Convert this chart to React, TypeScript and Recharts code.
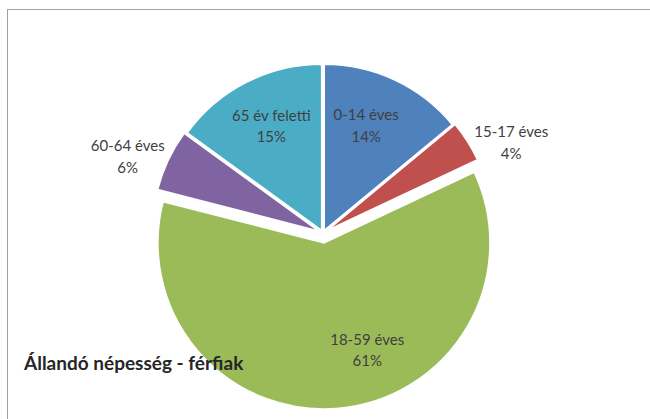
import { Cell, Pie, PieChart } from 'recharts';

const categories = ['0-14 éves', '15-17 éves', '18-59 éves', '60-64 éves', '65 év feletti'];
const shares = [14, 4, 61, 6, 15];

const COLORS = ['#4F81BD', '#C0504D', '#9BBB59', '#8064A2', '#4BACC6'];
// how far each slice is pulled out of the pie (px)
const EXPLODE = [3, 5, 10, 5, 3];
// labels drawn outside the pie vs inside it
const OUTSIDE = [false, true, false, true, false];
// Excel's "best fit" doesn't sit exactly on the mid angle, so nudge a bit
const LABEL_NUDGE: [number, number][] = [[-9, 3], [6, 25], [32, -12], [0, 15], [4, 2]];

const CX = 323;
const CY = 233;
const RADIUS = 166;
const RAD = Math.PI / 180;
const FONT = 'Lato, "Open Sans", sans-serif';

const data = categories.map((name, i) => ({ name, value: shares[i] }));
const total = shares.reduce((a, b) => a + b, 0);

// angle of each slice's middle, clockwise from 12 o'clock
const midFromTop = shares.map((v, i) => {
  const before = shares.slice(0, i).reduce((a, b) => a + b, 0);
  return ((before + v / 2) / total) * 360;
});

function makeLabel(slice: number) {
  return (props: any) => {
    if (props.index !== slice) return null;
    const { cx, cy, midAngle, outerRadius, name, value } = props;
    const r = outerRadius * (OUTSIDE[slice] ? 1.27 : 0.72);
    const x = cx + r * Math.cos(-midAngle * RAD) + LABEL_NUDGE[slice][0];
    const y = cy + r * Math.sin(-midAngle * RAD) + LABEL_NUDGE[slice][1];
    return (
      <text textAnchor="middle" fill="#404040" fontSize={15} fontFamily={FONT}>
        <tspan x={x} y={y - 5}>{name}</tspan>
        <tspan x={x} y={y + 16.5}>{value}%</tspan>
      </text>
    );
  };
}

export default function App() {
  return (
    <div
      style={{
        position: 'absolute',
        left: 0,
        top: 0,
        width: 650,
        height: 419,
        background: '#fff',
        overflow: 'hidden',
      }}
    >
      <div
        style={{
          position: 'absolute',
          left: 7,
          top: 9,
          width: 700,
          height: 500,
          border: '1px solid #a0a0a0',
        }}
      />
      <div style={{ position: 'absolute', left: 0, top: 0 }}>
        <PieChart width={650} height={419} margin={{ top: 0, right: 0, bottom: 0, left: 0 }}>
          {data.map((_, slice) => {
            const d = EXPLODE[slice];
            const a = midFromTop[slice] * RAD;
            return (
              <Pie
                key={categories[slice]}
                data={data}
                dataKey="value"
                nameKey="name"
                cx={CX + d * Math.sin(a)}
                cy={CY - d * Math.cos(a)}
                outerRadius={RADIUS}
                startAngle={90}
                endAngle={-270}
                label={makeLabel(slice)}
                labelLine={false}
                isAnimationActive={false}
              >
                {data.map((entry, i) => (
                  <Cell
                    key={entry.name}
                    fill={i === slice ? COLORS[i] : 'none'}
                    stroke={i === slice ? '#fff' : 'none'}
                    strokeWidth={1.5}
                  />
                ))}
              </Pie>
            );
          })}
        </PieChart>
      </div>
      <div
        style={{
          position: 'absolute',
          left: 24,
          top: 352,
          fontFamily: FONT,
          fontWeight: 700,
          fontSize: 19,
          lineHeight: 1.2,
          color: '#262626',
          whiteSpace: 'nowrap',
        }}
      >
        Állandó népesség - férfiak
      </div>
    </div>
  );
}
